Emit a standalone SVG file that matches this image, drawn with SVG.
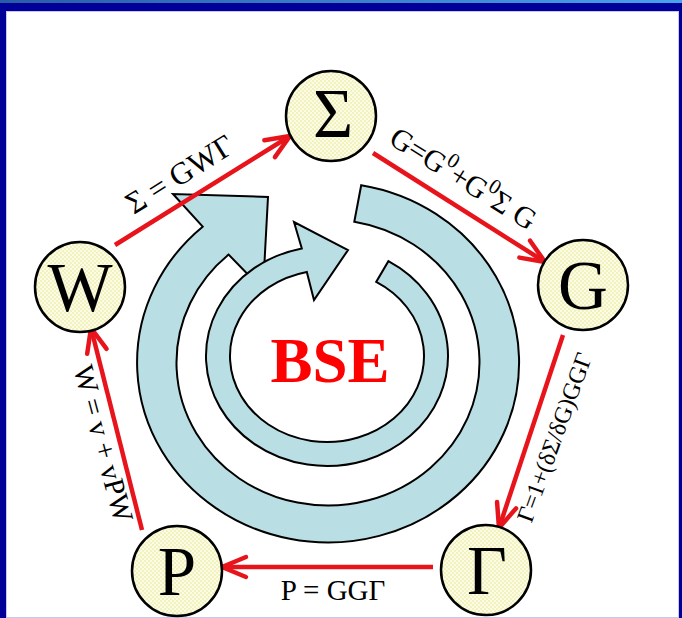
<svg xmlns="http://www.w3.org/2000/svg" width="682" height="618" viewBox="0 0 682 618">
<defs>
<linearGradient id="topband" x1="0" y1="0" x2="1" y2="0">
<stop offset="0" stop-color="#2a5ca6"/>
<stop offset="1" stop-color="#4aa2ea"/>
</linearGradient>
<pattern id="dots" width="4" height="4" patternUnits="userSpaceOnUse">
<rect width="4" height="4" fill="#fbfbe6"/>
<circle cx="1" cy="1" r="0.8" fill="#e6e88a"/>
<circle cx="3" cy="3" r="0.8" fill="#e6e88a"/>
</pattern>
<marker id="head" markerUnits="userSpaceOnUse" markerWidth="40" markerHeight="40" refX="0" refY="0" orient="auto" overflow="visible">
<path d="M-24,-10 L0,0 L-24,10" fill="none" stroke="#e8141c" stroke-width="4.5" stroke-linejoin="round" stroke-linecap="round"/>
</marker>
<style>
.node circle{fill:url(#dots);stroke:#000;stroke-width:2.5}
.node text{font-family:"Liberation Serif","Times New Roman",serif;font-size:69px;fill:#000;text-anchor:middle}
.conn line{stroke:#e8141c;stroke-width:4.5;marker-end:url(#head)}
.lbl{font-family:"Liberation Serif","Times New Roman",serif;font-size:29px;fill:#000;text-anchor:middle}
.ring{fill:#b9dfe4;stroke:#000;stroke-width:2}
</style>
</defs>
<rect x="0" y="0" width="682" height="618" fill="#000099"/>
<rect x="0" y="0" width="682" height="3" fill="url(#topband)"/>
<rect x="6.5" y="11.5" width="672" height="606" fill="#ffffff" stroke="#c8c8ee" stroke-width="1"/>

<g id="cycle">
<path class="ring" d="M361.2,185.2 A191,180 0 1 1 202.7,226.7 L173,194 L268,197 L263,290 L228.6,254.6 A151.5,143 0 1 0 354.3,221.7 Z"/>
<path class="ring" d="M388.4,261.2 A121,110 0 1 1 301.8,248.4 L294,222 L348,250 L314,300 L306.8,271.9 A97,86 0 1 0 376.2,281.9 Z"/>
<text x="330" y="382" font-family="'Liberation Serif','Times New Roman',serif" font-weight="bold" font-size="63" fill="#ff0000" text-anchor="middle">BSE</text>
</g>

<g id="connectors" class="conn">
<line x1="115" y1="245" x2="290" y2="136"/>
<line x1="373" y1="153" x2="545" y2="262"/>
<line x1="563" y1="335" x2="499" y2="528"/>
<line x1="433" y1="567" x2="222" y2="567"/>
<line x1="142" y1="530" x2="91" y2="328"/>
</g>

<g id="labels">
<text class="lbl" style="font-size:31px" transform="translate(185,183) rotate(-32)">Σ = GWΓ</text>
<text class="lbl" style="font-size:30px" transform="translate(458,187) rotate(32)">G=G<tspan font-size="21" dy="-13">0</tspan><tspan dy="13">+G</tspan><tspan font-size="21" dy="-13">0</tspan><tspan dy="13">Σ G</tspan></text>
<text class="lbl" style="font-size:24px" transform="translate(562,440) rotate(-70)">Γ=1+(δΣ/δG)GGΓ</text>
<text class="lbl" x="333" y="600">P = GGΓ</text>
<text class="lbl" transform="translate(94,446) rotate(75)">W = v + vPW</text>
</g>

<g id="node-sigma" class="node"><circle cx="331" cy="116" r="45"/><text x="333" y="137">Σ</text></g>
<g id="node-g" class="node"><circle cx="583" cy="285" r="45"/><text x="583" y="309">G</text></g>
<g id="node-gamma" class="node"><circle cx="486" cy="570" r="45"/><text x="487" y="594">Γ</text></g>
<g id="node-p" class="node"><circle cx="177" cy="571" r="45"/><text x="177" y="595">P</text></g>
<g id="node-w" class="node"><circle cx="80" cy="287" r="45"/><text x="80" y="311">W</text></g>
</svg>
